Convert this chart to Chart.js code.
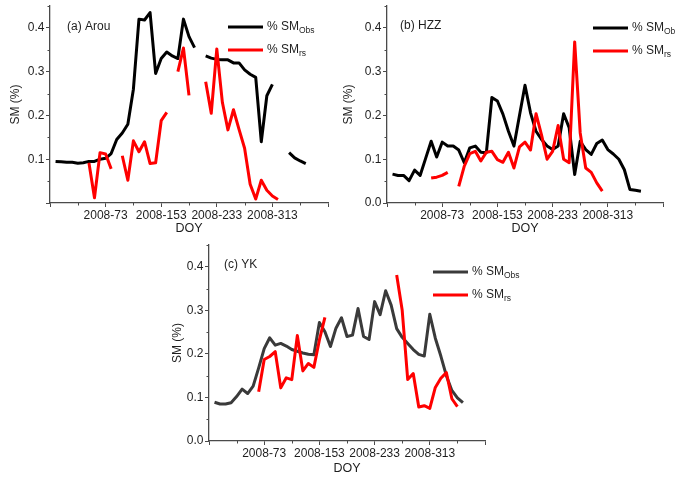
<!DOCTYPE html>
<html>
<head>
<meta charset="utf-8">
<title>Soil moisture, observed vs remote sensing (2008)</title>
<script src="https://cdn.jsdelivr.net/npm/chart.js@4/dist/chart.umd.min.js"></script>
<style>
  html, body { margin: 0; padding: 0; background: #fff; }
  body { width: 675px; height: 477px; position: relative; overflow: hidden; }
  canvas { position: absolute; }
</style>
</head>
<body>
<canvas id="arou" width="340" height="240" style="left:0;top:0"></canvas>
<canvas id="hzz" width="338" height="240" style="left:337px;top:0"></canvas>
<canvas id="yk" width="380" height="237" style="left:160px;top:240px"></canvas>
<script>
// 8-day composite dates (day of year, 2008)
const doy = [1, 9, 17, 25, 33, 41, 49, 57, 65, 73, 81, 89, 97, 105, 113, 121, 129, 137, 145, 153,
  161, 169, 177, 185, 193, 201, 209, 217, 225, 233, 241, 249, 257, 265, 273, 281, 289, 297, 305, 313,
  321, 329, 337, 345, 353, 361];

// (a) Arou
const arouObs = [0.095, 0.094, 0.093, 0.093, 0.091, 0.092, 0.095, 0.095, 0.100, 0.102,
  0.113, 0.145, 0.160, 0.180, 0.260, 0.420, 0.418, 0.435, 0.296, 0.330,
  0.345, 0.336, 0.330, 0.420, 0.380, 0.355, null, 0.336, 0.331, 0.328,
  0.327, 0.327, 0.320, 0.320, 0.304, 0.294, 0.287, 0.140, 0.245, 0.271,
  null, null, 0.115, 0.103, 0.096, 0.090];
const arouRs = [null, null, null, null, null, null, 0.092, 0.012, 0.115, 0.112,
  0.078, null, 0.108, 0.052, 0.142, 0.117, 0.140, 0.090, 0.092, 0.188,
  0.207, null, 0.300, 0.354, 0.246, null, null, 0.277, 0.205, 0.352,
  0.230, 0.167, 0.213, 0.168, 0.125, 0.043, 0.009, 0.052, 0.029, 0.016,
  0.008, null, null, null, null, null];

// (b) HZZ
const hzzObs = [0.066, 0.063, 0.063, 0.051, 0.075, 0.063, 0.102, 0.141, 0.105, 0.139,
  0.130, 0.130, 0.121, 0.092, 0.126, 0.130, 0.116, 0.115, 0.241, 0.233,
  0.203, 0.164, 0.130, 0.200, 0.269, 0.206, 0.164, 0.145, 0.130, 0.122,
  0.130, 0.204, 0.172, 0.065, 0.141, 0.122, 0.111, 0.136, 0.144, 0.122,
  0.112, 0.100, 0.076, 0.031, 0.029, 0.027];
const hzzRs = [null, null, null, null, null, null, null, 0.057, 0.059, 0.063,
  0.070, null, 0.038, 0.084, 0.113, 0.118, 0.096, 0.116, 0.118, 0.099,
  0.093, 0.116, 0.080, 0.128, 0.139, 0.121, 0.204, 0.155, 0.100, 0.118,
  0.177, 0.100, 0.092, 0.368, 0.160, 0.080, 0.070, 0.046, 0.027, null,
  null, null, null, null, null, null];

// (c) YK
const ykObs = [0.089, 0.085, 0.085, 0.088, 0.102, 0.119, 0.109, 0.126, 0.168, 0.212,
  0.237, 0.220, 0.224, 0.218, 0.210, 0.206, 0.202, 0.199, 0.198, 0.272,
  0.251, 0.217, 0.259, 0.283, 0.240, 0.243, 0.304, 0.240, 0.233, 0.320,
  0.290, 0.345, 0.312, 0.258, 0.238, 0.224, 0.210, 0.199, 0.195, 0.291,
  0.236, 0.195, 0.150, 0.116, 0.099, 0.088];
const ykRs = [null, null, null, null, null, null, null, null, 0.113, 0.187,
  0.194, 0.205, 0.122, 0.145, 0.141, 0.242, 0.161, 0.178, 0.169, 0.232,
  0.284, null, null, null, null, null, null, null, null, null,
  null, null, null, 0.381, 0.300, 0.141, 0.155, 0.078, 0.081, 0.075,
  0.123, 0.144, 0.157, 0.097, 0.079, null];

// Axis ticks
const xMajor = [-7, 73, 153, 233, 313, 393];
const xMinor = [33, 113, 193, 273, 353];
const xTickLabels = { 73: '2008-73', 153: '2008-153', 233: '2008-233', 313: '2008-313' };
const yMajor = [0, 0.1, 0.2, 0.3, 0.4];
const yMinor = [0.05, 0.15, 0.25, 0.35, 0.45];

const FONT = "'Liberation Sans', Arial, Helvetica, sans-serif";
const TEXT = '#1e1e1e';
const AXIS = '#4a4a4a';
const RED = '#ff0000';

function pts(values) {
  return doy.map((d, i) => ({ x: d, y: values[i] }));
}

// Minor ticks, panel caption and legend (with subscripts)
const panelDecor = {
  id: 'panelDecor',
  afterDraw(chart, args, o) {
    const ctx = chart.ctx;
    const xs = chart.scales.x, ys = chart.scales.y;
    ctx.save();
    ctx.strokeStyle = AXIS;
    ctx.lineWidth = 1;
    ctx.beginPath();
    xMinor.forEach(v => {
      const px = Math.round(xs.getPixelForValue(v)) + 0.5;
      ctx.moveTo(px, ys.bottom);
      ctx.lineTo(px, ys.bottom + 2.5);
    });
    yMinor.forEach(v => {
      const py = Math.round(ys.getPixelForValue(v)) + 0.5;
      ctx.moveTo(xs.left, py);
      ctx.lineTo(xs.left - 2.5, py);
    });
    ctx.stroke();

    ctx.fillStyle = TEXT;
    ctx.textBaseline = 'middle';
    ctx.textAlign = 'left';
    ctx.font = '12px ' + FONT;
    ctx.fillText(o.caption, o.captionX, o.captionY);

    o.legend.forEach(item => {
      ctx.strokeStyle = item.color;
      ctx.lineWidth = 3;
      ctx.beginPath();
      ctx.moveTo(o.legendX, item.y);
      ctx.lineTo(o.legendX + 35, item.y);
      ctx.stroke();
      ctx.fillStyle = TEXT;
      ctx.font = '12px ' + FONT;
      const tx = o.legendX + 39;
      ctx.fillText('% SM', tx, item.y);
      const w = ctx.measureText('% SM').width;
      ctx.font = '8.5px ' + FONT;
      ctx.fillText(item.sub, tx + w, item.y + 3.5);
    });
    ctx.restore();
  }
};

function makePanel(id, obs, rs, obsColor, cfg) {
  return new Chart(document.getElementById(id), {
    type: 'line',
    data: {
      datasets: [
        { data: pts(rs), borderColor: RED, borderWidth: 3, pointRadius: 0, tension: 0,
          spanGaps: false, borderJoinStyle: 'round', fill: false },
        { data: pts(obs), borderColor: obsColor, borderWidth: 3, pointRadius: 0, tension: 0,
          spanGaps: false, borderJoinStyle: 'round', fill: false }
      ]
    },
    options: {
      responsive: false,
      animation: false,
      events: [],
      layout: { padding: { left: 0, top: cfg.top, right: cfg.right, bottom: 0 } },
      plugins: {
        legend: { display: false },
        tooltip: { enabled: false },
        panelDecor: cfg.decor
      },
      scales: {
        x: {
          type: 'linear',
          min: -7,
          max: 393,
          afterBuildTicks: s => { s.ticks = xMajor.map(v => ({ value: v })); },
          afterFit: s => {
            s.height = cfg.xHeight;
            s.paddingLeft = 0; s.paddingRight = 0;
          },
          ticks: {
            autoSkip: false, maxRotation: 0, minRotation: 0, padding: 1,
            color: TEXT, font: { family: FONT, size: 12 },
            callback: v => xTickLabels[v] || ''
          },
          grid: { display: true, drawOnChartArea: false, drawTicks: true, tickLength: 4,
                  tickColor: AXIS, tickWidth: 1 },
          border: { display: true, color: AXIS, width: 1.3 },
          title: { display: true, text: 'DOY', color: TEXT, font: { family: FONT, size: 12.5 },
                   padding: { top: 0, bottom: cfg.doyPad } }
        },
        y: {
          type: 'linear',
          min: 0,
          max: 0.45,
          afterBuildTicks: s => { s.ticks = yMajor.map(v => ({ value: v })); },
          afterFit: s => {
            s.width = cfg.yWidth;
            s.paddingTop = 0; s.paddingBottom = 0;
          },
          ticks: {
            padding: 1.5, color: TEXT, font: { family: FONT, size: 12 },
            callback: v => (v === 0 && !cfg.showZero) ? '' : v.toFixed(1)
          },
          grid: { display: true, drawOnChartArea: false, drawTicks: true, tickLength: 4,
                  tickColor: AXIS, tickWidth: 1 },
          border: { display: true, color: AXIS, width: 1.3 },
          title: { display: true, text: 'SM (%)', color: TEXT, font: { family: FONT, size: 12 },
                   padding: { top: cfg.smPad, bottom: 0 } }
        }
      }
    },
    plugins: [panelDecor]
  });
}

makePanel('arou', arouObs, arouRs, '#000000', {
  top: 6, right: 12, xHeight: 37, yWidth: 50, doyPad: 4, smPad: 8, showZero: false,
  decor: { caption: '(a) Arou', captionX: 67, captionY: 27, legendX: 228,
           legend: [{ color: '#000000', sub: 'Obs', y: 27 }, { color: RED, sub: 'rs', y: 50 }] }
});

makePanel('hzz', hzzObs, hzzRs, '#000000', {
  top: 6, right: 12, xHeight: 37, yWidth: 50, doyPad: 4, smPad: 4, showZero: true,
  decor: { caption: '(b) HZZ', captionX: 63, captionY: 26, legendX: 256,
           legend: [{ color: '#000000', sub: 'Obs', y: 28 }, { color: RED, sub: 'rs', y: 51 }] }
});

makePanel('yk', ykObs, ykRs, '#3a3a3a', {
  top: 5, right: 55, xHeight: 36, yWidth: 49, doyPad: 1, smPad: 10, showZero: true,
  decor: { caption: '(c) YK', captionX: 64, captionY: 25, legendX: 273,
           legend: [{ color: '#3a3a3a', sub: 'Obs', y: 32 }, { color: RED, sub: 'rs', y: 55 }] }
});
</script>
</body>
</html>
